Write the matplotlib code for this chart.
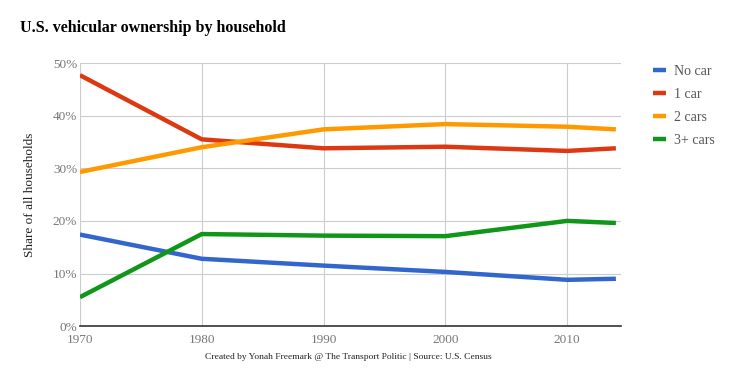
import matplotlib.pyplot as plt
from matplotlib.ticker import FuncFormatter

years = [1970, 1980, 1990, 2000, 2010, 2014]
no_car = [17.4, 12.8, 11.5, 10.3, 8.8, 9.0]
one_car = [47.7, 35.5, 33.8, 34.1, 33.3, 33.8]
two_cars = [29.3, 34.0, 37.4, 38.4, 37.9, 37.4]
three_plus = [5.5, 17.5, 17.2, 17.1, 20.0, 19.6]

series = [
    ('No car', no_car, '#3366cc'),
    ('1 car', one_car, '#dc3912'),
    ('2 cars', two_cars, '#ff9900'),
    ('3+ cars', three_plus, '#109618'),
]

plt.rcParams['font.family'] = ['Liberation Serif', 'DejaVu Serif']

fig = plt.figure(figsize=(7.47, 3.71), dpi=100)
ax = fig.add_axes([0.107, 0.121, 0.724, 0.709])

for name, vals, col in series:
    ax.plot(years, vals, color=col, lw=3.2, label=name, solid_capstyle='butt')

ax.set_xlim(1970, 2014.4)
ax.set_ylim(0, 50)
ax.set_xticks([1970, 1980, 1990, 2000, 2010])
ax.set_yticks([0, 10, 20, 30, 40, 50])
ax.yaxis.set_major_formatter(FuncFormatter(lambda v, p: '%d%%' % v))
ax.grid(True, color='#cccccc', lw=0.8)
ax.set_axisbelow(True)
for s in ['top', 'right', 'left']:
    ax.spines[s].set_visible(False)
ax.spines['bottom'].set_color('#333333')
ax.spines['bottom'].set_linewidth(1.2)
ax.tick_params(length=0, labelsize=9.5, colors='#777777', pad=2)
ax.tick_params(axis='x', pad=6)

ax.set_ylabel('Share of all households', fontsize=9.5, color='#222222', labelpad=12)

fig.text(0.027, 0.915, 'U.S. vehicular ownership by household', fontsize=11.5,
         fontweight='bold', color='#000000')
fig.text(0.467, 0.033, 'Created by Yonah Freemark @ The Transport Politic | Source: U.S. Census',
         fontsize=6.8, ha='center', color='#222222')

leg = fig.legend(loc='upper left', bbox_to_anchor=(0.858, 0.858), frameon=False,
                 handlelength=0.9, handletextpad=0.6, labelspacing=0.71,
                 fontsize=10)
for t in leg.get_texts():
    t.set_color('#555555')

fig.savefig('out.png', dpi=100)
